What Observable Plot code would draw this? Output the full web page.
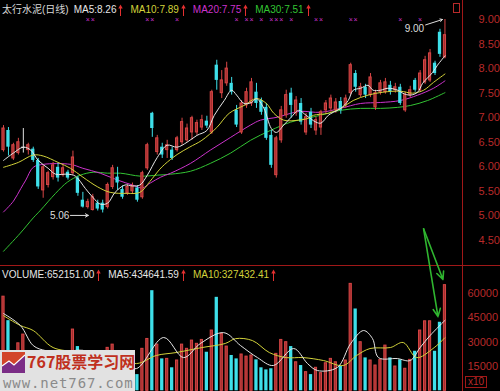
<!DOCTYPE html>
<html><head><meta charset="utf-8">
<script src="https://cdn.jsdelivr.net/npm/d3@7"></script>
<script src="https://cdn.jsdelivr.net/npm/@observablehq/plot@0.6"></script>
<style>
html,body{margin:0;padding:0;background:#000;}
#wrap{position:relative;width:500px;height:391px;background:#000;overflow:hidden;font-family:"Liberation Sans","Noto Sans CJK SC",sans-serif;}
.abs{position:absolute;}
.row{position:absolute;display:flex;align-items:center;font-size:10px;line-height:10px;white-space:nowrap;}
</style></head><body><div id="wrap"></div>
<script>
// ---------- data ----------
const openP  = [6.34,6.74,6.17,6.28,6.40,6.34,6.36,6.13,5.52,5.63, 5.79,5.99,5.83,5.89,5.87,5.77,5.32,5.18,5.12,5.26, 5.26,5.18,5.59,5.79,5.54,5.46,5.50,5.57,5.38,5.97, 7.09,6.30,6.40,6.34,6.34,6.34,6.50,6.54,6.70,6.70, 6.80,6.93,6.70,8.07,7.50,7.70,7.70,7.15,6.70,7.25, 7.29,7.52,7.35,7.21,6.64,5.83,6.54,7.05,7.50,7.09, 7.29,6.70,7.11,6.74,6.80,7.15,7.19,7.15,7.33,7.25, 7.50,7.90,7.46,7.62,7.46,7.21,7.52,7.52,7.66,7.56, 7.62,7.15,7.46,7.76,7.56,7.72,7.76,8.11,8.74,8.23];
const highP  = [6.84,6.80,6.48,6.58,6.78,6.48,6.40,6.17,6.03,5.91, 6.09,6.07,6.03,5.93,6.32,5.81,5.48,5.34,5.44,5.32, 5.32,5.67,6.03,5.99,5.61,5.63,5.67,5.61,5.91,6.48, 7.11,6.64,6.48,6.54,6.40,6.62,6.99,6.87,7.03,6.95, 7.05,7.03,7.56,8.17,7.96,8.13,7.82,7.25,7.35,7.60, 7.80,7.70,7.40,7.29,6.74,6.62,7.23,7.56,7.60,7.43, 7.39,7.09,7.19,7.01,7.15,7.35,7.46,7.39,7.41,7.46, 8.11,7.96,7.70,7.68,7.90,7.56,7.76,7.80,7.74,7.70, 7.68,7.52,7.64,7.80,7.96,8.25,8.39,8.15,8.80,9.00];
const lowP   = [6.30,6.22,6.13,6.24,6.28,6.24,6.09,5.54,5.36,5.57, 5.73,5.69,5.79,5.73,5.83,5.40,5.16,5.14,5.10,5.10, 5.06,5.14,5.54,5.52,5.34,5.42,5.44,5.28,5.34,5.93, 6.60,6.24,6.17,6.17,6.13,6.30,6.44,6.50,6.54,6.64, 6.74,6.78,6.66,7.56,7.39,7.64,7.46,6.80,6.66,7.19, 7.23,7.19,7.05,6.54,5.97,5.77,6.48,6.99,6.99,7.03, 6.85,6.64,6.78,6.64,6.64,7.07,7.11,7.09,7.07,7.19, 7.46,7.52,7.41,7.39,7.41,7.15,7.46,7.48,7.46,7.50, 7.25,7.11,7.41,7.52,7.52,7.68,7.72,7.86,8.23,8.20];
const closeP = [6.78,6.40,6.44,6.50,6.40,6.44,6.13,5.59,5.99,5.87, 6.03,5.77,5.97,5.77,6.19,5.46,5.18,5.28,5.38,5.14, 5.12,5.63,5.97,5.67,5.38,5.59,5.61,5.32,5.87,6.44, 6.78,6.58,6.24,6.44,6.17,6.58,6.91,6.78,6.99,6.89, 6.95,6.83,7.52,7.76,7.76,8.00,7.52,6.85,7.29,7.52, 7.72,7.29,7.11,6.58,6.03,6.58,7.15,7.46,7.25,7.35, 6.91,7.01,6.85,6.95,7.11,7.29,7.39,7.31,7.15,7.39, 8.07,7.62,7.62,7.46,7.82,7.50,7.70,7.72,7.52,7.62, 7.29,7.46,7.56,7.56,7.90,8.17,8.31,7.90,8.29,8.68];
// volume in units of x10 shares
const volume = [58100,43300,21000,29300,34700,24000,22000,23000,20000,17000, 19000,16000,15000,14000,37800,27300,18000,14000,17000,13000, 12000,26500,28500,16000,12000,11000,12500,10000,25900,32000, 61800,28500,19700,19700,14200,18700,28500,25900,31000,29000, 31400,23800,37200,57700,35100,27300,21800,19700,22400,21100, 21800,19100,14200,12900,13600,22800,31400,30000,27300,17600, 15600,11500,10000,14200,10900,17000,19700,17600,15000,18700, 66000,50500,30000,20300,18700,15600,19100,27900,20300,15000, 19100,13600,19100,24400,37200,42900,42900,24400,42300,65215];

const ma5Idx  = [0,2,4,5.5,7,9,10.5,13,14.5,16.5,18,19.5,21,22.5,24.5,26,27.5,29,31,33,35,37,39,41,42.5,44.5,46,47,48.5,50,51,52.5,54,55,56.5,58,59.5,61,63,64,65.5,66.5,68,69.5,70.5,72,73.5,74.5,76,77.5,79.5,80.5,82,83.5,84.5,86.5,87.5,89];
const ma5Val  = [6.13,6.28,6.40,6.34,6.13,5.97,5.85,5.85,5.81,5.56,5.38,5.24,5.26,5.48,5.63,5.61,5.63,5.83,6.19,6.44,6.40,6.50,6.64,6.74,7.05,7.35,7.56,7.46,7.29,7.31,7.39,7.19,6.78,6.70,6.85,7.01,7.15,7.05,6.91,6.89,7.05,7.11,7.19,7.35,7.56,7.60,7.66,7.56,7.56,7.60,7.56,7.50,7.46,7.52,7.70,7.92,8.07,8.26];
const ma10Idx = [0,3,6,8,11,13.5,16,19,21.5,25,27.5,29.5,31.5,32.5,35,37.5,40,43,45.5,48.5,51,53,54.5,56.5,59.5,61.5,62.5,65.5,68,70.5,73.5,76.5,80,82.5,84.7,86.7,89];
const ma10Val = [5.99,6.09,6.24,6.22,6.09,5.97,5.79,5.59,5.48,5.46,5.48,5.70,5.95,6.05,6.25,6.40,6.54,6.80,7.09,7.25,7.39,7.29,7.09,6.95,6.95,6.99,7.05,7.09,7.19,7.35,7.46,7.52,7.54,7.50,7.56,7.72,7.89];
const ma20Idx = [0,2,3.5,4.5,6,8,13.5,16,19.5,23,26,28,29.6,31.7,33.7,37.7,41.7,45.8,49.8,51.8,55.2,57.9,59.9,63.9,67.9,72,76,80,83.5,86.7,89];
const ma20Val = [5.08,5.30,5.56,5.73,5.99,6.05,6.05,5.97,5.87,5.73,5.63,5.57,5.67,5.79,5.87,6.07,6.34,6.60,6.85,6.95,7.01,7.09,7.13,7.11,7.19,7.29,7.31,7.35,7.46,7.60,7.75];
const ma30Idx = [0,3.4,6,7.5,10.5,12.9,15.5,18.1,21,23.6,27.6,31,33.7,37.7,41.7,45.8,49.8,53.8,57.9,61.3,63.9,67.9,72,76,79.4,82.1,85.5,89];
const ma30Val = [4.28,4.65,4.96,5.12,5.46,5.69,5.83,5.89,5.87,5.87,5.81,5.83,5.85,5.91,6.07,6.28,6.54,6.74,6.91,6.99,7.05,7.15,7.19,7.19,7.21,7.25,7.35,7.51];

const vma5Idx  = [0,3.4,6,8.5,12,16,20,24,26.8,32.3,36.3,39.7,44.4,47.8,51.2,54.4,58.5,61.3,63.3,67.3,70,72.6,74.4,75.6,79.4,82,84,86,89];
const vma5Val  = [47700,40300,27900,24800,24000,25000,20000,17000,13700,32900,20500,29200,35900,27900,20500,15600,26100,16800,12500,14400,29200,37200,32200,20500,19900,18700,26700,34100,43464];
const vma10Idx = [0,3.4,6,10,15,20,26.8,30.8,34.8,40,44.7,46.8,50.2,53.6,57,60.4,64.5,68.5,71.2,73.9,78,80.6,83.3,86.6,89];
const vma10Val = [46400,40300,37200,26700,24000,22000,16800,21800,23600,26700,29200,32200,31000,23600,20500,20500,18700,15600,21800,26100,26700,29800,20500,26100,32743];

const priceTicks = [4.5,5.0,5.5,6.0,6.5,7.0,7.5,8.0,8.5,9.0];
const volTicks = [15000,30000,45000,60000];
const markIdx = [17,18,29,30,35,47,49,50,52,54,55,56,58,63,64,70,71,80,84];

const titleText = "太行水泥(日线)";
const maNames  = ["MA5","MA10","MA20","MA30"];
const maLast   = ["8.26","7.89","7.75","7.51"];
const volNames = ["VOLUME","MA5","MA10"];
const volLast  = ["652151.00","434641.59","327432.41"];
const lowNote  = {i: 20, value: 5.06, text: "5.06"};
const highNote = {i: 89, value: 9.00, text: "9.00"};
const arrowFrom = {i: 84.7, v: 100000};
const arrowTargets = [89, 88];

// ---------- styles ----------
const WHITE = "#e6e6e6", YELLOW = "#d2d23a", MAGENTA = "#cc33cc", GREEN = "#33c433";
const maColors = [WHITE, YELLOW, MAGENTA, GREEN];
const volColors = [WHITE, WHITE, YELLOW];
const AXIS_RED = "#b82a2a", FRAME_RED = "#a01818";
const RED_FILL = "#a22e2e", RED_STROKE = "#d84646", CYAN = "#3ee0ea";
const xDomain = [-0.605, 92.54];

const candles = closeP.map((c, i) => ({i, o: openP[i], h: highP[i], l: lowP[i], c, v: volume[i]}));
const pts = (idx, val) => idx.map((x, k) => ({x, y: val[k]}));
const wickColor = d => d.c > d.o ? RED_STROKE : d.c < d.o ? CYAN : "#e0e0e0";

const wrap = document.getElementById("wrap");

const price = Plot.plot({
  width: 500, height: 266, marginLeft: 0, marginRight: 38, marginTop: 0, marginBottom: 0,
  style: {background: "transparent", color: AXIS_RED, fontFamily: "Liberation Sans, Arial, sans-serif", fontSize: "11px", overflow: "visible"},
  x: {domain: xDomain, axis: null},
  y: {domain: [3.970, 9.387], axis: null},
  color: {type: "identity"},
  marks: [
    Plot.axisY({ticks: priceTicks, anchor: "right", tickSize: 0, tickPadding: 16, tickFormat: d3.format(".2f"), color: AXIS_RED, fontSize: 11, label: null}),
    Plot.line(pts(ma30Idx, ma30Val), {x: "x", y: "y", stroke: GREEN, strokeWidth: 1, curve: "catmull-rom"}),
    Plot.line(pts(ma20Idx, ma20Val), {x: "x", y: "y", stroke: MAGENTA, strokeWidth: 1, curve: "catmull-rom"}),
    Plot.ruleX(candles, {x: "i", y1: "l", y2: "h", stroke: wickColor, strokeWidth: 1}),
    Plot.rect(candles.filter(d => d.c > d.o), {x1: d => d.i - 0.22, x2: d => d.i + 0.22, y1: "o", y2: "c", fill: RED_FILL, stroke: RED_STROKE, strokeWidth: 1}),
    Plot.rect(candles.filter(d => d.c < d.o), {x1: d => d.i - 0.33, x2: d => d.i + 0.33, y1: "o", y2: "c", fill: CYAN}),
    Plot.ruleY(candles.filter(d => d.c === d.o), {y: "o", x1: d => d.i - 0.35, x2: d => d.i + 0.35, stroke: "#e0e0e0"}),
    Plot.line(pts(ma10Idx, ma10Val), {x: "x", y: "y", stroke: YELLOW, strokeWidth: 1, curve: "catmull-rom"}),
    Plot.line(pts(ma5Idx, ma5Val), {x: "x", y: "y", stroke: WHITE, strokeWidth: 1, curve: "catmull-rom"}),
    Plot.text(markIdx, {x: d => d, frameAnchor: "top", dy: 19.5, lineAnchor: "middle", text: () => "×", fill: MAGENTA, fontSize: 7}),
    Plot.text([lowNote], {x: "i", y: "value", text: "text", dx: -43, dy: 2.5, fill: "#dddddd", fontSize: 10}),
    Plot.arrow([lowNote], {x1: d => d.i - 6.5, x2: d => d.i - 2.9, y1: d => d.value - 0.05, y2: d => d.value - 0.05, stroke: "#dddddd", strokeWidth: 1, headLength: 5}),
    Plot.text([highNote], {x: "i", y: "value", text: "text", dx: -30.5, dy: 9, fill: "#dddddd", fontSize: 10}),
    Plot.arrow([highNote], {x1: d => d.i - 3.9, x2: d => d.i - 0.5, y1: d => d.value - 0.11, y2: d => d.value, stroke: "#dddddd", strokeWidth: 1, headLength: 4})
  ]
});
price.style.position = "absolute"; price.style.left = "0px"; price.style.top = "0px";
wrap.appendChild(price);

const vol = Plot.plot({
  width: 500, height: 125, marginLeft: 0, marginRight: 38, marginTop: 0, marginBottom: 0,
  style: {background: "transparent", color: AXIS_RED, fontFamily: "Liberation Sans, Arial, sans-serif", fontSize: "11px", overflow: "visible"},
  x: {domain: xDomain, axis: null},
  y: {domain: [0, 76730], range: [124.3, 0], axis: null},
  marks: [
    Plot.axisY({ticks: volTicks, anchor: "right", tickSize: 0, tickPadding: 5, tickFormat: d3.format("d"), color: AXIS_RED, fontSize: 11, label: null}),
    Plot.rect(candles.filter(d => d.c >= d.o), {x1: d => d.i - 0.22, x2: d => d.i + 0.22, y1: () => 0, y2: "v", fill: RED_FILL, stroke: RED_STROKE, strokeWidth: 1}),
    Plot.rect(candles.filter(d => d.c < d.o), {x1: d => d.i - 0.33, x2: d => d.i + 0.33, y1: () => 0, y2: "v", fill: CYAN}),
    Plot.line(pts(vma10Idx, vma10Val), {x: "x", y: "y", stroke: YELLOW, strokeWidth: 1, curve: "catmull-rom"}),
    Plot.line(pts(vma5Idx, vma5Val), {x: "x", y: "y", stroke: WHITE, strokeWidth: 1, curve: "catmull-rom"}),
    Plot.arrow(arrowTargets, {x1: () => arrowFrom.i, y1: () => arrowFrom.v, x2: d => d - 0.4, y2: d => volume[d] + 3500, stroke: "#2fb52f", strokeWidth: 1.6, headLength: 8, headAngle: 50})
  ]
});
vol.style.position = "absolute"; vol.style.left = "0px"; vol.style.top = "266px";

// frame lines
const hline = document.createElement("div");
hline.className = "abs"; hline.style.cssText += "left:0;top:265px;width:500px;height:1px;background:" + FRAME_RED;
const vline = document.createElement("div");
vline.className = "abs"; vline.style.cssText += "left:462px;top:0;width:1px;height:391px;background:" + FRAME_RED;
wrap.appendChild(hline); wrap.appendChild(vline);
wrap.appendChild(vol);

// header rows
const arrowSvg = '<svg width="5" height="12" style="margin-left:2px;margin-right:7px"><path d="M2.5 0.5 L0.3 4.5 L4.7 4.5 Z" fill="#e53030"/><line x1="2.5" y1="3" x2="2.5" y2="12" stroke="#e53030" stroke-width="1"/></svg>';
function row(left, top, items, title) {
  const r = document.createElement("div");
  r.className = "row"; r.style.left = left + "px"; r.style.top = top + "px";
  let html = title ? '<span style="color:#d8d8d8;margin-right:5px">' + title + '</span>' : "";
  for (const [t, c] of items) html += '<span style="color:' + c + '">' + t + '</span>' + arrowSvg;
  r.innerHTML = html;
  wrap.appendChild(r);
}
row(2, 4, maNames.map((n, k) => [n + ":" + maLast[k], maColors[k]]), titleText);
row(2, 269, volNames.map((n, k) => [n + ":" + volLast[k], volColors[k]]));

// small icons / unit label
const icon = document.createElement("div");
icon.className = "abs";
icon.style.cssText += "left:453px;top:3px;width:5px;height:8px;border:1px solid " + AXIS_RED + ";";
wrap.appendChild(icon);
const unit = document.createElement("div");
unit.className = "abs";
unit.style.cssText += "left:465px;top:376px;font-size:10px;line-height:10px;color:" + AXIS_RED + ";border:1px solid " + FRAME_RED + ";padding:0 2px;";
unit.textContent = "x10";
wrap.appendChild(unit);

// watermark logo
const wm = document.createElement("div");
wm.className = "abs";
wm.style.cssText += "left:0;top:350px;width:135px;height:41px;background:#e2e2e2;";
wm.innerHTML =
  '<svg class="abs" style="left:2px;top:2px" width="23" height="21"><rect width="23" height="21" fill="#d2452a"/><polygon points="0,21 0,14 7,9 12,13 23,3 23,21" fill="#7b2d86"/><polyline points="0,14 7,9 12,13 23,3" fill="none" stroke="#fff" stroke-width="1.2"/></svg>' +
  '<div class="abs" style="left:27px;top:0px;font-family:\'Noto Sans CJK SC\',sans-serif;font-weight:700;font-size:16px;line-height:22px;color:#c0301e;white-space:nowrap">767股票学习网</div>' +
  '<div class="abs" style="left:3px;top:26px;font-family:\'DejaVu Sans Mono\',monospace;font-size:14px;line-height:14px;letter-spacing:0.9px;color:#8a8a8a;white-space:nowrap">www.net767.com</div>';
wrap.appendChild(wm);
</script>
</body></html>
